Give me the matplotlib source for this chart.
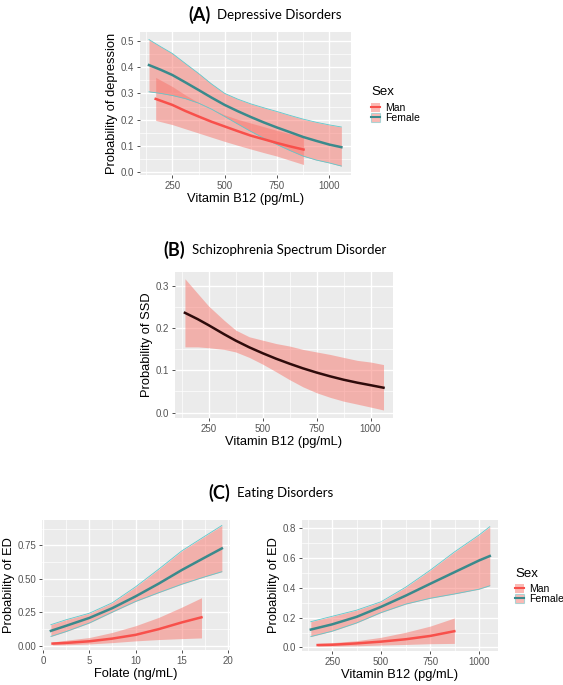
import matplotlib
matplotlib.use('Agg')
import matplotlib.pyplot as plt
from matplotlib.patches import Patch
from matplotlib.lines import Line2D
from matplotlib.ticker import FormatStrFormatter

plt.rcParams['font.family'] = ['Liberation Sans', 'DejaVu Sans']

W, H = 563, 685

# (A) Depressive disorders, vitamin B12
a_fem_x = [138, 194, 250, 312, 375, 437, 500, 563, 625, 688, 750, 813, 875, 938, 1000, 1058]
a_fem_fit = [0.408, 0.390, 0.370, 0.342, 0.313, 0.284, 0.256, 0.232, 0.210, 0.189, 0.170, 0.152,
             0.134, 0.119, 0.105, 0.095]
a_fem_hi = [0.505, 0.478, 0.452, 0.414, 0.376, 0.336, 0.300, 0.278, 0.260, 0.245, 0.231, 0.216,
            0.202, 0.190, 0.180, 0.172]
a_fem_lo = [0.306, 0.300, 0.292, 0.280, 0.263, 0.240, 0.212, 0.183, 0.155, 0.129, 0.105, 0.082,
            0.061, 0.046, 0.035, 0.023]
a_man_x = [170, 250, 312, 375, 437, 500, 563, 625, 688, 750, 813, 877]
a_man_fit = [0.279, 0.256, 0.233, 0.212, 0.192, 0.174, 0.156, 0.139, 0.125, 0.111, 0.098, 0.086]
a_man_hi = [0.361, 0.326, 0.294, 0.265, 0.240, 0.218, 0.201, 0.187, 0.173, 0.159, 0.146, 0.134]
a_man_lo = [0.197, 0.181, 0.165, 0.149, 0.133, 0.117, 0.102, 0.088, 0.074, 0.061, 0.045, 0.029]

# (B) Schizophrenia spectrum disorder, vitamin B12
b_x = [140, 199, 250, 322, 375, 438, 500, 562, 625, 687, 750, 813, 875, 938, 1000, 1060]
b_fit = [0.237, 0.222, 0.2075, 0.186, 0.171, 0.155, 0.141, 0.128, 0.116, 0.105, 0.095, 0.086,
         0.078, 0.071, 0.065, 0.059]
b_hi = [0.318, 0.283, 0.253, 0.219, 0.196, 0.180, 0.172, 0.164, 0.158, 0.150, 0.144, 0.138,
        0.131, 0.124, 0.120, 0.114]
b_lo = [0.156, 0.156, 0.154, 0.150, 0.144, 0.131, 0.115, 0.097, 0.078, 0.061, 0.047, 0.036,
        0.027, 0.020, 0.013, 0.006]

# (C) Eating disorders, folate
cf_fem_x = [0.86, 2.52, 5.0, 7.48, 10.0, 12.52, 15.0, 17.48, 19.32]
cf_fem_fit = [0.113, 0.151, 0.209, 0.282, 0.370, 0.466, 0.567, 0.660, 0.728]
cf_fem_hi = [0.159, 0.196, 0.244, 0.322, 0.441, 0.574, 0.710, 0.819, 0.899]
cf_fem_lo = [0.071, 0.108, 0.171, 0.252, 0.332, 0.398, 0.461, 0.516, 0.554]
cf_man_x = [1.04, 2.52, 5.0, 7.48, 10.0, 12.52, 15.0, 17.12]
cf_man_fit = [0.018, 0.023, 0.035, 0.055, 0.083, 0.126, 0.176, 0.214]
cf_man_hi = [0.030, 0.043, 0.063, 0.101, 0.151, 0.214, 0.290, 0.360]
cf_man_lo = [0.008, 0.009, 0.015, 0.025, 0.038, 0.048, 0.055, 0.060]

# (C) Eating disorders, vitamin B12
cb_fem_x = [141, 250, 374, 500, 626, 750, 874, 1000, 1055]
cb_fem_fit = [0.120, 0.155, 0.205, 0.273, 0.348, 0.427, 0.505, 0.584, 0.614]
cb_fem_hi = [0.173, 0.209, 0.250, 0.307, 0.405, 0.518, 0.641, 0.755, 0.811]
cb_fem_lo = [0.073, 0.109, 0.164, 0.234, 0.291, 0.330, 0.359, 0.391, 0.414]
cb_man_x = [176, 250, 374, 500, 626, 750, 874]
cb_man_fit = [0.016, 0.018, 0.027, 0.039, 0.055, 0.077, 0.109]
cb_man_hi = [0.027, 0.032, 0.045, 0.068, 0.102, 0.143, 0.198]
cb_man_lo = [0.009, 0.009, 0.011, 0.016, 0.020, 0.025, 0.027]

fill_col = '#F8766D'
man_col = '#F8504B'
fem_col = '#3A8A8C'
edge_col = '#5FC8CB'

fig = plt.figure(figsize=(W / 100, H / 100), dpi=100)


def gg_axes(l, t, r, b, xlim, ylim, xmaj, xmin, ymaj, ymin, yfmt):
    ax = fig.add_axes([l / W, 1 - b / H, (r - l) / W, (b - t) / H])
    ax.set_facecolor('#EBEBEB')
    for s in ax.spines.values():
        s.set_visible(False)
    ax.set_xlim(xlim)
    ax.set_ylim(ylim)
    ax.set_xticks(xmaj)
    ax.set_xticks(xmin, minor=True)
    ax.set_yticks(ymaj)
    ax.set_yticks(ymin, minor=True)
    ax.yaxis.set_major_formatter(FormatStrFormatter(yfmt))
    ax.grid(which='major', color='white', lw=1.0)
    ax.grid(which='minor', color='white', lw=0.5)
    ax.set_axisbelow(True)
    ax.tick_params(which='minor', length=0)
    ax.tick_params(which='major', length=2.5, width=0.6, color='#333333',
                   labelsize=7, labelcolor='#555555', pad=1.5)
    return ax


def sex_panel(ax, fx, ffit, fhi, flo, mx, mfit, mhi, mlo):
    ax.fill_between(fx, flo, fhi, color=fill_col, alpha=0.5, lw=0)
    ax.fill_between(mx, mlo, mhi, color=fill_col, alpha=0.5, lw=0)
    ax.plot(fx, fhi, color=edge_col, lw=0.6)
    ax.plot(fx, flo, color=edge_col, lw=0.6)
    ax.plot(fx, ffit, color=fem_col, lw=1.8)
    ax.plot(mx, mfit, color=man_col, lw=1.8)


def sex_legend(x, y_title, y_keys):
    fig.text(x / W, 1 - y_title / H, 'Sex', fontsize=9.5, ha='left', va='center')
    man_h = (Patch(facecolor=fill_col, alpha=0.5, edgecolor='none'),
             Line2D([], [], color=man_col, lw=1.5))
    fem_h = (Patch(facecolor=fill_col, alpha=0.5, edgecolor=edge_col, lw=0.8),
             Line2D([], [], color=fem_col, lw=1.5))
    fig.legend(handles=[man_h, fem_h], labels=['Man', 'Female'],
               loc='upper left', bbox_to_anchor=(x / W, 1 - y_keys / H), frameon=False,
               fontsize=7.5, handlelength=0.9, handleheight=0.9,
               labelspacing=0.0, handletextpad=0.5, borderpad=0, borderaxespad=0)


def panel_title(x, y, tag, text):
    fig.text(x / W, 1 - y / H, tag, fontsize=13, fontweight='bold',
             family=['Lato', 'DejaVu Sans'], ha='left', va='center')
    fig.text((x + 29) / W, 1 - y / H, text, fontsize=9.5,
             family=['Lato', 'DejaVu Sans'], ha='left', va='center')


b12_maj = [250, 500, 750, 1000]
b12_min = [125, 375, 625, 875]

# (A)
ax = gg_axes(140, 32, 351, 175, (95, 1104), (-0.011, 0.534), b12_maj, b12_min,
             [0, 0.1, 0.2, 0.3, 0.4, 0.5], [0.05, 0.15, 0.25, 0.35, 0.45], '%.1f')
sex_panel(ax, a_fem_x, a_fem_fit, a_fem_hi, a_fem_lo, a_man_x, a_man_fit, a_man_hi, a_man_lo)
ax.set_xlabel('Vitamin B12 (pg/mL)', fontsize=9.3, labelpad=2)
ax.set_ylabel('Probability of depression', fontsize=9.3, labelpad=2)
panel_title(188, 15, '(A)', 'Depressive Disorders')
sex_legend(371, 92, 103)

# (B)
ax = gg_axes(175, 272, 393, 418, (94, 1104), (-0.013, 0.334), b12_maj, b12_min,
             [0, 0.1, 0.2, 0.3], [0.05, 0.15, 0.25], '%.1f')
ax.fill_between(b_x, b_lo, b_hi, color=fill_col, alpha=0.5, lw=0)
ax.plot(b_x, b_fit, color='#2E0B0B', lw=1.8)
ax.set_xlabel('Vitamin B12 (pg/mL)', fontsize=9.3, labelpad=2)
ax.set_ylabel('Probability of SSD', fontsize=9.3, labelpad=2)
panel_title(163, 250, '(B)', 'Schizophrenia Spectrum Disorder')

# (C) folate
ax = gg_axes(42, 520, 230, 650, (-0.1, 20.2), (-0.03, 0.94), [0, 5, 10, 15, 20],
             [2.5, 7.5, 12.5, 17.5], [0, 0.25, 0.5, 0.75], [0.125, 0.375, 0.625, 0.875], '%.2f')
sex_panel(ax, cf_fem_x, cf_fem_fit, cf_fem_hi, cf_fem_lo, cf_man_x, cf_man_fit, cf_man_hi, cf_man_lo)
ax.set_xlabel('Folate (ng/mL)', fontsize=9.3, labelpad=2)
ax.set_ylabel('Probability of ED', fontsize=9.3, labelpad=2)

# (C) vitamin B12
ax = gg_axes(302, 520, 498, 651, (96, 1097), (-0.024, 0.856), b12_maj, b12_min,
             [0, 0.2, 0.4, 0.6, 0.8], [0.1, 0.3, 0.5, 0.7], '%.1f')
sex_panel(ax, cb_fem_x, cb_fem_fit, cb_fem_hi, cb_fem_lo, cb_man_x, cb_man_fit, cb_man_hi, cb_man_lo)
ax.set_xlabel('Vitamin B12 (pg/mL)', fontsize=9.3, labelpad=2)
ax.set_ylabel('Probability of ED', fontsize=9.3, labelpad=2)
panel_title(208, 493, '(C)', 'Eating Disorders')
sex_legend(515, 574, 584)

fig.savefig('out.png', dpi=100)
